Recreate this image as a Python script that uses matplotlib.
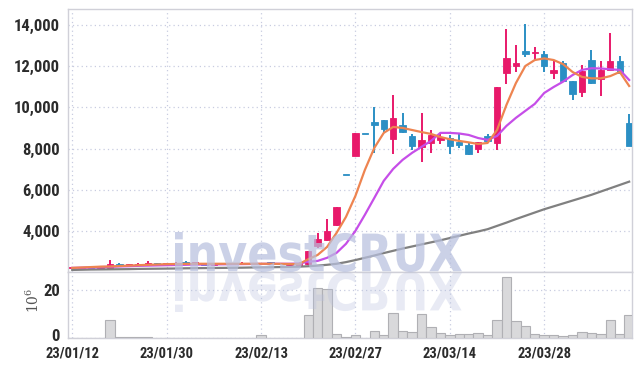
import matplotlib
matplotlib.use('Agg')
import matplotlib.pyplot as plt
import numpy as np
from matplotlib import font_manager
from matplotlib.font_manager import FontProperties
from matplotlib.textpath import TextPath
from matplotlib.patches import PathPatch
from matplotlib.transforms import Affine2D, ScaledTranslation

# trading days (yy/mm/dd)
dates = ['23/01/12', '23/01/13', '23/01/16', '23/01/17', '23/01/18', '23/01/19', '23/01/20',
         '23/01/25', '23/01/26', '23/01/27', '23/01/30', '23/01/31',
         '23/02/01', '23/02/02', '23/02/03', '23/02/06', '23/02/07', '23/02/08', '23/02/09',
         '23/02/10', '23/02/13', '23/02/14', '23/02/15', '23/02/16', '23/02/17', '23/02/20',
         '23/02/21', '23/02/22', '23/02/23', '23/02/24', '23/02/27', '23/02/28',
         '23/03/02', '23/03/03', '23/03/06', '23/03/07', '23/03/08', '23/03/09', '23/03/10',
         '23/03/13', '23/03/14', '23/03/15', '23/03/16', '23/03/17', '23/03/20', '23/03/21',
         '23/03/22', '23/03/23', '23/03/24', '23/03/27', '23/03/28', '23/03/29', '23/03/30',
         '23/03/31', '23/04/03', '23/04/04', '23/04/05', '23/04/06', '23/04/07', '23/04/10']

opens = [2190, 2200, 2210, 2200, 2190, 2360, 2330, 2320, 2380, 2420, 2400, 2410, 2510, 2430, 2400,
         2340, 2390, 2410, 2380, 2420, 2400, 2470, 2380, 2350, 2300, 2380, 3240, 3560, 4300, 6730,
         7660, 8720, 9280, 9390, 8450, 9150, 8610, 8050, 8260, 8420, 8530, 8340, 8180, 7990, 8610,
         8280, 11660, 12030, 12760, 12620, 12600, 11690, 12150, 11280, 10760, 12310, 11370, 11820, 12260, 9260]
highs = [2220, 2230, 2240, 2260, 2590, 2420, 2400, 2450, 2520, 2460, 2440, 2480, 2530, 2460, 2420,
         2400, 2430, 2440, 2480, 2450, 2440, 2490, 2420, 2400, 2400, 3040, 3890, 4570, 5180, 6730,
         8740, 8720, 10010, 9390, 10600, 9710, 8690, 9710, 8900, 8690, 8660, 8690, 8250, 8300, 8690,
         11000, 13790, 13040, 14050, 12920, 12760, 12230, 12230, 11280, 12070, 12800, 12230, 13600, 12500, 9680]
lows = [2170, 2180, 2190, 2190, 2180, 2300, 2300, 2310, 2360, 2380, 2370, 2390, 2420, 2400, 2320,
        2320, 2370, 2380, 2360, 2380, 2370, 2370, 2350, 2330, 2270, 2360, 3160, 3500, 4250, 6710,
        7660, 8700, 7800, 8820, 7740, 8740, 7930, 7360, 7800, 8220, 7740, 8020, 7690, 7770, 8380,
        7930, 11140, 11740, 12440, 12310, 11740, 11370, 11280, 10360, 10490, 11120, 10570, 11820, 11660, 8140]
closes = [2200, 2210, 2200, 2230, 2380, 2320, 2340, 2380, 2420, 2400, 2420, 2450, 2430, 2440, 2340,
          2390, 2410, 2400, 2420, 2400, 2410, 2380, 2390, 2390, 2380, 3040, 3600, 4015, 5180, 6710,
          8740, 8700, 9150, 8950, 9470, 8820, 8140, 8420, 8660, 8550, 8140, 8180, 7740, 8300, 8380,
          11000, 12420, 12180, 12600, 12640, 12030, 11820, 11280, 10650, 11770, 11200, 11820, 12230, 11660, 8140]

# volume in millions of shares
volume = [0.2, 0.1, 0.1, 0.2, 7.7, 0.4, 0.3, 0.3, 0.4, 0.1, 0.1, 0.1, 0.2, 0.1, 0.1, 0.1, 0.1, 0.1,
          0.1, 0.1, 1.4, 0.2, 0.1, 0.1, 0.2, 9.5, 20.8, 20.5, 1.7, 0.4, 1.1, 0.1, 3.0, 1.4, 10.6, 3.0,
          2.7, 10.2, 4.7, 2.3, 1.4, 1.8, 1.8, 2.3, 1.4, 7.7, 25.5, 7.2, 5.1, 1.8, 1.4, 1.4, 0.85, 1.4,
          2.7, 2.3, 1.8, 7.7, 1.8, 9.5]

# moving average lines
ma_short = [2200, 2220, 2240, 2260, 2270, 2290, 2310, 2330, 2350, 2365, 2380, 2390, 2395, 2400, 2400,
            2400, 2400, 2400, 2400, 2400, 2400, 2400, 2395, 2390, 2385, 2620, 2830, 3220, 3900, 4680,
            5700, 6960, 8030, 8760, 9050, 9000, 8900, 8800, 8710, 8560, 8450, 8370, 8300, 8220, 8270,
            8900, 10120, 11180, 12010, 12300, 12380, 12300, 12100, 11720, 11480, 11410, 11410, 11520, 11720, 11040]
ma_mid = [2200, 2210, 2220, 2240, 2250, 2270, 2280, 2300, 2310, 2320, 2330, 2340, 2350, 2360, 2365,
          2370, 2375, 2380, 2385, 2390, 2395, 2400, 2400, 2400, 2410, 2500, 2540, 2690, 2930, 3370,
          4000, 4780, 5600, 6430, 7010, 7450, 7790, 8080, 8370, 8760, 8760, 8730, 8660, 8510, 8420,
          8610, 9100, 9490, 9830, 10170, 10700, 10990, 11250, 11570, 11820, 11900, 11890, 11850, 11820, 11330]
ma_long = [2100, 2110, 2120, 2125, 2130, 2135, 2140, 2150, 2155, 2160, 2165, 2170, 2180, 2185, 2190,
           2195, 2200, 2205, 2210, 2220, 2225, 2230, 2240, 2250, 2260, 2280, 2310, 2350, 2400, 2480,
           2580, 2690, 2800, 2920, 3030, 3140, 3240, 3340, 3440, 3540, 3650, 3760, 3870, 3970, 4080,
           4240, 4400, 4570, 4730, 4890, 5050, 5190, 5330, 5470, 5610, 5750, 5910, 6070, 6230, 6390]

price_ticks = [4000, 6000, 8000, 10000, 12000, 14000]
vol_ticks = [0, 20]

up_color = '#e8196a'
down_color = '#2b8fc4'
grid_color = '#c8cce0'
spine_color = '#d0d0d8'

names = {f.name for f in font_manager.fontManager.ttflist}
tick_family = next((n for n in ['DejaVu Sans Condensed', 'Liberation Sans Narrow', 'Roboto Condensed',
                                'Open Sans Condensed'] if n in names), 'DejaVu Sans')
ytick_font = FontProperties(family=tick_family, weight='bold', size=12)
xtick_font = FontProperties(family=tick_family, weight='bold', size=10.5)

x = np.arange(len(dates))
o = np.array(opens, dtype=float)
c = np.array(closes, dtype=float)
rising = c >= o
colors = np.where(rising, up_color, down_color)

fig = plt.figure(figsize=(6.42, 3.66), dpi=100)
W, H = 642, 366
ax = fig.add_axes([68 / W, 1 - 272 / H, 564 / W, 263 / H])
axv = fig.add_axes([68 / W, 1 - 338 / H, 564 / W, 66 / H], sharex=ax)

# candles
body_lo = np.minimum(o, c)
body_h = np.maximum(np.abs(c - o), 50)
ax.vlines(x, lows, highs, colors=colors, linewidth=1.4, zorder=3)
ax.bar(x, body_h, bottom=body_lo, width=0.68, color=colors, edgecolor=colors, linewidth=0.6, zorder=4)

ax.plot(x, ma_long, color='#808080', linewidth=1.6, zorder=5)
ax.plot(x, ma_mid, color='#c64ee8', linewidth=1.6, zorder=5)
ax.plot(x, ma_short, color='#ee8450', linewidth=1.6, zorder=5)

# volume
axv.bar(x, volume, width=1.0, color='#d9d9db', edgecolor='#b0b0b4', linewidth=0.8, zorder=3)

for a in (ax, axv):
    a.grid(True, linestyle=(0, (1, 2.5)), color=grid_color, linewidth=0.9)
    a.set_axisbelow(True)
    for s in a.spines.values():
        s.set_color(spine_color)
        s.set_linewidth(1.0)
    a.tick_params(length=0, colors='#2b2b2b', pad=6)

ax.set_xlim(-0.45, 59.3)
ax.set_ylim(2000, 14780)
ax.set_yticks(price_ticks)
ax.set_yticklabels([f'{t:,}' for t in price_ticks], fontproperties=ytick_font)
ax.tick_params(labelbottom=False)

axv.set_ylim(0, 27.7)
axv.set_yticks(vol_ticks)
axv.set_yticklabels([str(t) for t in vol_ticks], fontproperties=ytick_font)
# nudge the "0" label up a little so it clears the first date
zero_lbl = axv.get_yticklabels()[0]
zero_lbl.set_transform(zero_lbl.get_transform() + ScaledTranslation(0, 2 / 72, fig.dpi_scale_trans))
tick_pos = x[::10]
axv.set_xticks(tick_pos)
axv.set_xticklabels([dates[i] for i in tick_pos], fontproperties=xtick_font)
axv.tick_params(axis='x', pad=6)
fig.text(33 / W, 1 - 300 / H, r'$\mathregular{10^6}$', rotation=90, ha='center', va='center',
         fontsize=10, family='DejaVu Serif', color='#555555')

# watermark with reflection
wm = TextPath((0, 0), 'investCRUX', size=100, prop=FontProperties(family='DejaVu Sans', weight='bold'))
bb = wm.get_extents()
sx = (462 - 175) / bb.width
sy = 40 / bb.height
base = H - 272
t_main = Affine2D().translate(-bb.x0, -bb.y0).scale(sx, sy).translate(175, base)
t_refl = Affine2D().translate(-bb.x0, -bb.y0).scale(sx, -sy).translate(175, base)
fig.add_artist(PathPatch(wm, transform=t_main, facecolor='#b8c0de', edgecolor='none', alpha=0.72, zorder=10))
fig.add_artist(PathPatch(wm, transform=t_refl, facecolor='#b8c0de', edgecolor='none', alpha=0.32, zorder=10))

fig.savefig('out.png', dpi=100)
